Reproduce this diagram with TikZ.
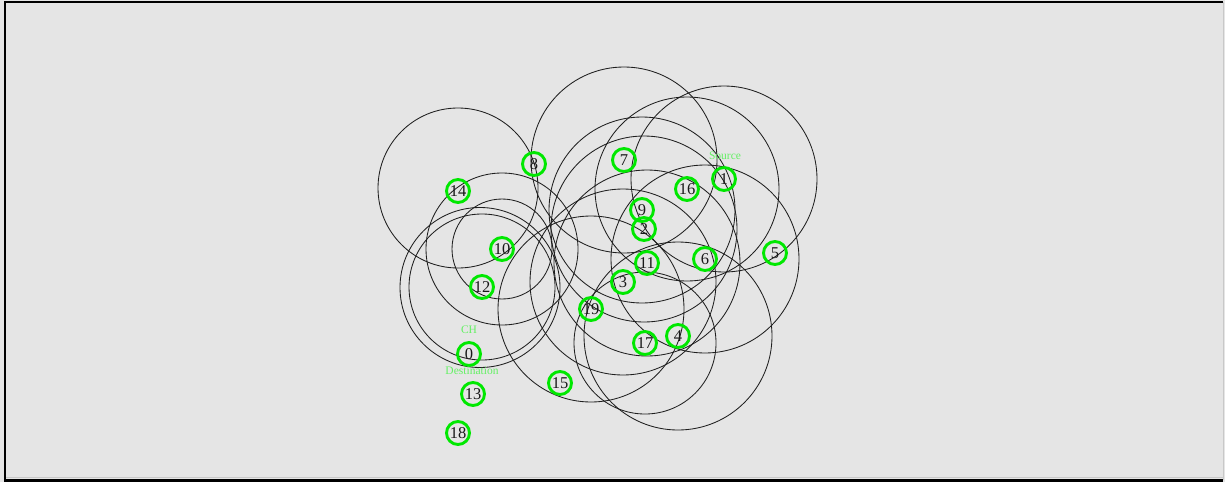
\documentclass[tikz,border=0pt]{standalone}
\usepackage{fontspec}
\setmainfont{Liberation Serif}
\definecolor{bg}{RGB}{229,229,229}
\definecolor{ndgreen}{RGB}{0,232,0}
\definecolor{lblgreen}{RGB}{100,240,100}
\definecolor{framegray}{RGB}{200,200,200}
\tikzset{
  nd/.style={circle, draw=ndgreen, line width=2.9pt, minimum size=23pt, inner sep=0pt,
             font=\fontsize{16.5}{16.5}\selectfont, text=black!90},
  rangec/.style={draw=black!88, line width=0.85pt},
  tag/.style={text=lblgreen, font=\fontsize{11.5}{11.5}\selectfont, inner sep=0pt}
}
\begin{document}
\begin{tikzpicture}[x=1pt,y=-1pt]
\useasboundingbox (0,0) rectangle (1225,482);
\fill[bg] (0,0) rectangle (1225,482);
% frame
\draw[black, line width=2.2pt] (1223,2) -- (5,2) -- (5,480.5) -- (1223,480.5);
\draw[framegray, line width=1.2pt] (1223.5,2) -- (1223.5,480);
\draw[framegray, line width=0.8pt] (6,477.5) -- (1223,477.5);
% node coordinates
\coordinate (p0) at (469,354);
\coordinate (p1) at (724,179);
\coordinate (p2) at (644,229);
\coordinate (p3) at (623,282);
\coordinate (p4) at (678,336);
\coordinate (p5) at (775,253);
\coordinate (p6) at (705,259);
\coordinate (p7) at (624,160);
\coordinate (p8) at (534,164);
\coordinate (p9) at (642,210);
\coordinate (p10) at (502,249);
\coordinate (p11) at (647,263);
\coordinate (p12) at (482,287);
\coordinate (p13) at (473,394);
\coordinate (p14) at (458,191);
\coordinate (p15) at (560,383);
\coordinate (p16) at (687,189);
\coordinate (p17) at (645,343);
\coordinate (p18) at (458,433);
\coordinate (p19) at (591,309);
% range circles
\draw[rangec] (458,188) circle[radius=80pt];
\draw[rangec] (p10) circle[radius=50pt];
\draw[rangec] (p10) circle[radius=76pt];
\draw[rangec] (480,287.5) circle[radius=80pt];
\draw[rangec] (p12) circle[radius=73pt];
\draw[rangec] (p7) circle[radius=93pt];
\draw[rangec] (p1) circle[radius=93pt];
\draw[rangec] (p16) circle[radius=92pt];
\draw[rangec] (p9) circle[radius=93pt];
\draw[rangec] (p2) circle[radius=93pt];
\draw[rangec] (p11) circle[radius=93pt];
\draw[rangec] (p3) circle[radius=93pt];
\draw[rangec] (p6) circle[radius=94pt];
\draw[rangec] (p4) circle[radius=94pt];
\draw[rangec] (p19) circle[radius=93pt];
\draw[rangec] (p17) circle[radius=71pt];
% nodes
\node[nd] (n0) at (p0) {0};
\node[nd] (n1) at (p1) {1};
\node[nd] (n2) at (p2) {2};
\node[nd] (n3) at (p3) {3};
\node[nd] (n4) at (p4) {4};
\node[nd] (n5) at (p5) {5};
\node[nd] (n6) at (p6) {6};
\node[nd] (n7) at (p7) {7};
\node[nd] (n8) at (p8) {8};
\node[nd] (n9) at (p9) {9};
\node[nd] (n10) at (p10) {10};
\node[nd] (n11) at (p11) {11};
\node[nd] (n12) at (p12) {12};
\node[nd] (n13) at (p13) {13};
\node[nd] (n14) at (p14) {14};
\node[nd] (n15) at (p15) {15};
\node[nd] (n16) at (p16) {16};
\node[nd] (n17) at (p17) {17};
\node[nd] (n18) at (p18) {18};
\node[nd] (n19) at (p19) {19};
% tags
\node[tag] (tsrc) at (725,156) {Source};
\node[tag] (tch) at (469,330) {CH};
\node[tag] (tdst) at (472,371) {Destination};
\end{tikzpicture}
\end{document}
